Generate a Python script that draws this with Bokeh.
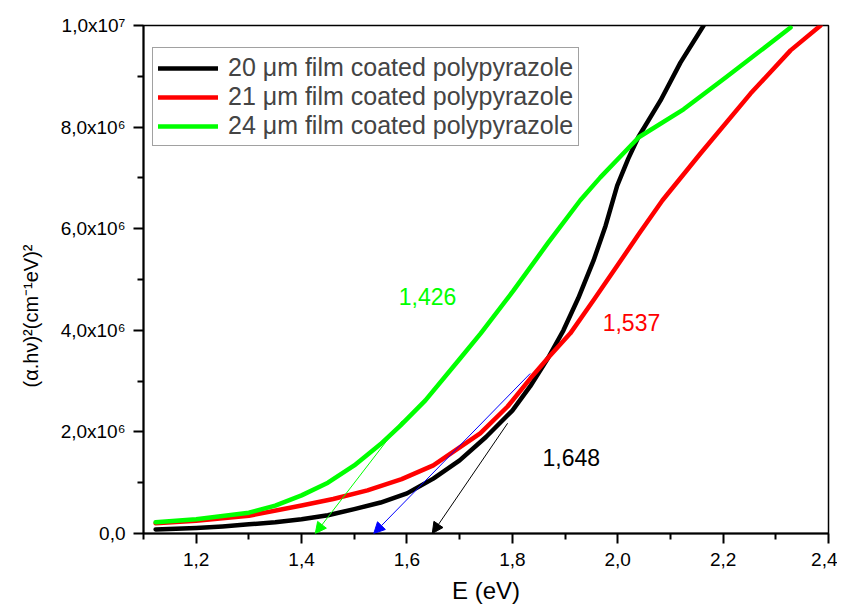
from bokeh.plotting import figure
from bokeh.models import Range1d, FixedTicker, Legend, LegendItem, Arrow, NormalHead, Title
from bokeh.core.properties import value
from bokeh.embed import file_html
from bokeh.resources import INLINE

# ---- data (E in eV, (alpha.h.nu)^2 in cm^-2 eV^2) ----
E_20 = [1.123, 1.2, 1.25, 1.3, 1.35, 1.4, 1.45, 1.5, 1.55, 1.6, 1.65, 1.7, 1.75, 1.8, 1.834, 1.868,
        1.897, 1.925, 1.954, 1.977, 1.999, 2.020, 2.039, 2.081, 2.119, 2.163]
A_20 = [0.08e6, 0.11e6, 0.14e6, 0.18e6, 0.22e6, 0.28e6, 0.36e6, 0.48e6, 0.61e6, 0.79e6, 1.08e6, 1.44e6,
        1.9e6, 2.42e6, 2.9e6, 3.46e6, 4.0e6, 4.63e6, 5.37e6, 6.06e6, 6.85e6, 7.38e6, 7.8e6, 8.52e6,
        9.27e6, 10.0e6]

E_21 = [1.123, 1.2, 1.3, 1.4, 1.46, 1.525, 1.59, 1.65, 1.739, 1.791, 1.834, 1.868, 1.91, 1.954,
        1.997, 2.041, 2.085, 2.157, 2.252, 2.328, 2.385]
A_21 = [0.20e6, 0.25e6, 0.35e6, 0.55e6, 0.68e6, 0.85e6, 1.07e6, 1.34e6, 1.97e6, 2.5e6, 3.05e6, 3.46e6,
        3.94e6, 4.59e6, 5.24e6, 5.91e6, 6.56e6, 7.48e6, 8.66e6, 9.51e6, 10.0e6]

E_24 = [1.123, 1.2, 1.3, 1.35, 1.4, 1.45, 1.5, 1.55, 1.588, 1.635, 1.702, 1.74, 1.802, 1.867, 1.929,
        1.967, 2.005, 2.04, 2.125, 2.208, 2.328]
A_24 = [0.22e6, 0.28e6, 0.41e6, 0.55e6, 0.75e6, 1.0e6, 1.34e6, 1.76e6, 2.13e6, 2.62e6, 3.46e6, 3.94e6,
        4.78e6, 5.71e6, 6.56e6, 7.01e6, 7.42e6, 7.8e6, 8.35e6, 9.0e6, 9.96e6]

series_labels = ["20 \u03bcm film coated polypyrazole",
                 "21 \u03bcm film coated polypyrazole",
                 "24 \u03bcm film coated polypyrazole"]
series_colors = ["#000000", "#FF0000", "#00FF00"]

# tangent extrapolations (start on curve -> band gap on E axis)
gap_values = [1.426, 1.537, 1.648]
gap_start_E = [1.591, 1.834, 1.791]
gap_start_A = [2.22e6, 3.15e6, 2.17e6]
gap_colors = ["#00FF00", "#0000FF", "#000000"]

label_text = ["1,426", "1,537", "1,648"]
label_E = [1.639, 2.026, 1.912]
label_A = [4.67e6, 4.15e6, 1.50e6]
label_colors = ["#00FF00", "#FF0000", "#000000"]

x_ticks = [1.2, 1.4, 1.6, 1.8, 2.0, 2.2, 2.4]
x_tick_labels = ["1,2", "1,4", "1,6", "1,8", "2,0", "2,2", "2,4"]
x_minor = [1.1, 1.3, 1.5, 1.7, 1.9, 2.1, 2.3]
y_ticks = [0.0, 2e6, 4e6, 6e6, 8e6, 1e7]
y_tick_labels = ["0,0", "2,0x10\u2076", "4,0x10\u2076", "6,0x10\u2076", "8,0x10\u2076", "1,0x10\u2077"]
y_minor = [1e6, 3e6, 5e6, 7e6, 9e6]

x_title = "E (eV)"
y_title = "(\u03b1.h\u03bd)\u00b2(cm\u207b\u00b9eV)\u00b2"

FONT = "Liberation Sans"

p = figure(width=837, height=611, x_range=Range1d(1.1, 2.4), y_range=Range1d(0, 1e7),
           output_backend="svg", toolbar_location=None,
           min_border_left=143, min_border_right=9, min_border_top=25, min_border_bottom=78)
p.xgrid.visible = False
p.ygrid.visible = False
p.outline_line_color = "black"
p.outline_line_width = 1.5
p.outline_line_alpha = 1.0
p.background_fill_color = "white"
p.border_fill_color = "white"

for ax, ticks, labels, minor in [(p.xaxis[0], x_ticks, x_tick_labels, x_minor),
                                  (p.yaxis[0], y_ticks, y_tick_labels, y_minor)]:
    ax.ticker = FixedTicker(ticks=ticks, minor_ticks=minor)
    ax.major_label_overrides = {float(t): l for t, l in zip(ticks, labels)}
    ax.major_tick_in = 0
    ax.major_tick_out = 10
    ax.minor_tick_in = 0
    ax.minor_tick_out = 6
    ax.axis_line_color = "black"
    ax.axis_line_width = 2
    ax.major_tick_line_color = "black"
    ax.major_tick_line_width = 2
    ax.minor_tick_line_color = "black"
    ax.minor_tick_line_width = 2
    ax.major_label_text_font = FONT
    ax.major_label_text_font_size = "19px"
    ax.major_label_text_color = "black"

p.xaxis[0].major_label_standoff = 9
p.xaxis[0].axis_label = x_title
p.xaxis[0].axis_label_standoff = 8
p.xaxis[0].axis_label_text_font = FONT
p.xaxis[0].axis_label_text_font_style = "normal"
p.xaxis[0].axis_label_text_font_size = "24px"
p.xaxis[0].axis_label_text_color = "black"
p.yaxis[0].major_label_standoff = 8

# y title: a left-side Title, shifted along the axis like the reference
p.add_layout(Title(text=y_title, align="left", offset=146, standoff=32,
                   text_font=FONT, text_font_size="20px", text_font_style="normal",
                   text_color="black"), "left")

renderers = []
for xs, ys, c in [(E_20, A_20, series_colors[0]), (E_21, A_21, series_colors[1]),
                  (E_24, A_24, series_colors[2])]:
    renderers.append(p.line(xs, ys, line_color=c, line_width=4.5, line_join="round", line_cap="round"))

for xs, ys, xe, c in zip(gap_start_E, gap_start_A, gap_values, gap_colors):
    p.add_layout(Arrow(end=NormalHead(size=11, line_color=c, fill_color=c, line_width=1),
                       x_start=xs, y_start=ys, x_end=xe, y_end=0.0,
                       line_color=c, line_width=1))

p.text(x=label_E, y=label_A, text=label_text, text_color=label_colors,
       text_font=value(FONT), text_font_size="23px", text_align="center", text_baseline="middle")

legend = Legend(items=[LegendItem(label=l, renderers=[r]) for l, r in zip(series_labels, renderers)],
                location=(9, 387), margin=0, padding=5, spacing=0,
                glyph_width=60, glyph_height=20, label_standoff=10,
                label_text_font=FONT, label_text_font_size="25px",
                border_line_color="#444444", border_line_width=1, background_fill_alpha=1.0)
p.add_layout(legend)

open("out.html", "w").write(file_html(p, INLINE))
